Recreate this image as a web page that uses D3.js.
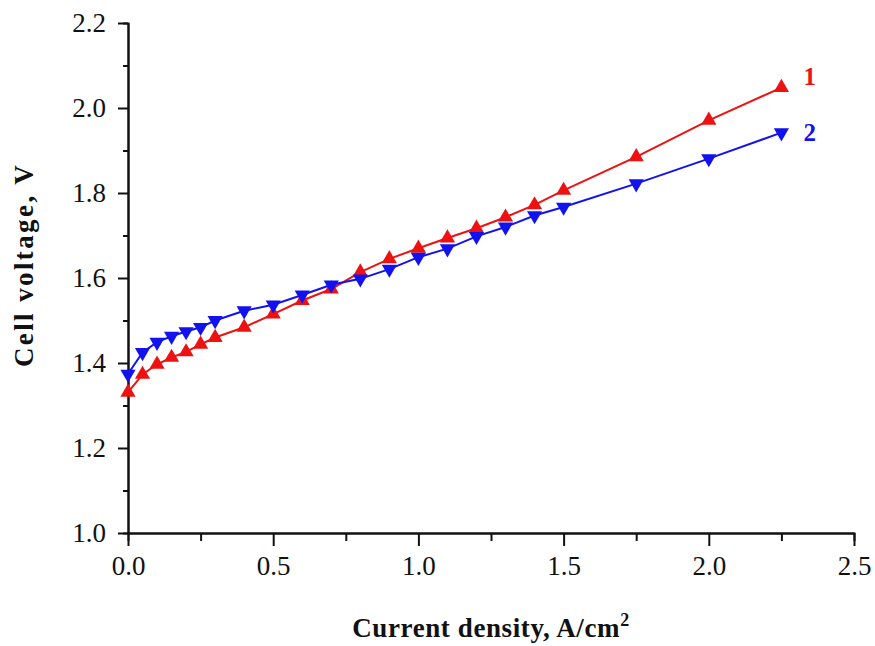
<!DOCTYPE html>
<html>
<head>
<meta charset="utf-8">
<script src="https://cdn.jsdelivr.net/npm/d3@7"></script>
<style>
  body { margin: 0; background: #fff; }
  svg { display: block; font-family: "Liberation Serif", "DejaVu Serif", serif; }
  .axis path, .axis line { stroke: #111; stroke-width: 2px; }
</style>
</head>
<body>
<svg id="chart" width="875" height="646"></svg>
<script>
const currentDensity = [0, 0.05, 0.1, 0.15, 0.2, 0.25, 0.3, 0.4, 0.5, 0.6, 0.7, 0.8, 0.9, 1.0, 1.1, 1.2, 1.3, 1.4, 1.5, 1.75, 2.0, 2.25]
const voltage1 = [1.331, 1.373, 1.397, 1.413, 1.426, 1.444, 1.46, 1.484, 1.515, 1.547, 1.574, 1.614, 1.645, 1.67, 1.694, 1.717, 1.743, 1.772, 1.806, 1.885, 1.971, 2.048]
const voltage2 = [1.374, 1.425, 1.449, 1.463, 1.474, 1.484, 1.5, 1.523, 1.537, 1.56, 1.584, 1.598, 1.621, 1.649, 1.669, 1.698, 1.72, 1.747, 1.767, 1.822, 1.881, 1.942]
const seriesNames = ['1', '2']
const xTicks = [0, 0.5, 1.0, 1.5, 2.0, 2.5]
const yTicks = [1.0, 1.2, 1.4, 1.6, 1.8, 2.0, 2.2]

const serif = '"Liberation Serif", "Times New Roman", serif'
const margin = { top: 23, left: 128, bottom: 113, right: 21 }
const svg = d3.select('#chart')
const width = +svg.attr('width') - margin.left - margin.right
const height = +svg.attr('height') - margin.top - margin.bottom

const x = d3.scaleLinear().domain([0, 2.5]).range([0, width])
const y = d3.scaleLinear().domain([1.0, 2.2]).range([height, 0])

const g = svg.append('g').attr('transform', `translate(${margin.left},${margin.top})`)

// minor ticks first, then major axes on top
g.append('g').classed('axis', true).attr('transform', `translate(0,${height})`)
  .call(d3.axisBottom(x).tickValues(d3.range(0.25, 2.5, 0.5)).tickSize(8).tickFormat(''))
g.append('g').classed('axis', true)
  .call(d3.axisLeft(y).tickValues(d3.range(1.1, 2.2, 0.2)).tickSize(5).tickFormat(''))

g.append('g').classed('axis', true).attr('transform', `translate(0,${height})`)
  .call(d3.axisBottom(x).tickValues(xTicks).tickSize(13).tickSizeOuter(0).tickPadding(10).tickFormat(d3.format('.1f')))
g.append('g').classed('axis', true)
  .call(d3.axisLeft(y).tickValues(yTicks).tickSize(10).tickSizeOuter(0).tickPadding(12).tickFormat(d3.format('.1f')))
g.selectAll('.axis').attr('font-family', serif).attr('font-size', 27)
g.selectAll('.tick text').attr('fill', '#111')

const series = [
  { name: seriesNames[0], values: voltage1, color: '#ee1111', up: true, dy: -11 },
  { name: seriesNames[1], values: voltage2, color: '#1212ee', up: false, dy: 0 }
]

const line = d3.line().x(d => x(d[0])).y(d => y(d[1]))
const tri = d3.symbol().type(d3.symbolTriangle).size(100)

series.forEach(s => {
  const pts = currentDensity.map((c, i) => [c, s.values[i]])
  g.append('path').datum(pts).attr('d', line)
    .attr('fill', 'none').attr('stroke', s.color).attr('stroke-width', 2)
  g.selectAll(null).data(pts).enter().append('path')
    .attr('d', tri)
    .attr('transform', d => `translate(${x(d[0])},${y(d[1])})${s.up ? '' : ' rotate(180)'}`)
    .attr('fill', s.color)
  const last = pts[pts.length - 1]
  g.append('text')
    .attr('x', x(last[0]) + 22).attr('y', y(last[1]) + s.dy)
    .attr('dominant-baseline', 'central')
    .attr('font-family', serif).attr('font-weight', 'bold').attr('font-size', 25)
    .attr('fill', s.color)
    .text(s.name)
})

svg.append('text')
  .attr('transform', 'translate(33,265) rotate(-90)')
  .attr('text-anchor', 'middle')
  .attr('font-family', serif).attr('font-weight', 'bold').attr('font-size', 27)
  .attr('letter-spacing', 2.4)
  .attr('fill', '#111')
  .text('Cell voltage, V')

const xTitle = svg.append('text')
  .attr('x', margin.left + x(1.25)).attr('y', 637)
  .attr('text-anchor', 'middle')
  .attr('font-family', serif).attr('font-weight', 'bold').attr('font-size', 27)
  .attr('letter-spacing', 0.6)
  .attr('fill', '#111')
xTitle.append('tspan').text('Current density, A/cm')
xTitle.append('tspan').attr('dy', -11).attr('font-size', 18).text('2')
</script>
</body>
</html>
